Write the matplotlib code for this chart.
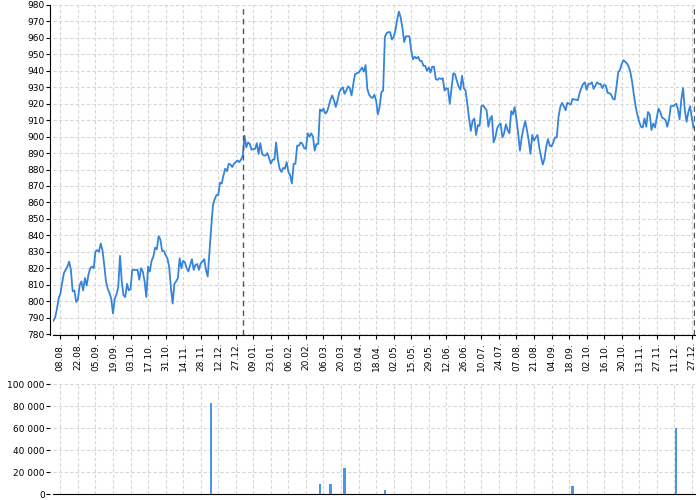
import matplotlib
matplotlib.use("Agg")
import matplotlib.pyplot as plt
import numpy as np
from matplotlib.ticker import FuncFormatter

# daily close, one value per trading day
close = [
    788, 790, 795, 801.5, 804.5, 811, 817, 819, 821, 824,
    819, 806, 806.5, 799.5, 801, 809.5, 812, 806.5, 814, 809.5,
    816, 820, 821, 820, 830, 831, 830, 835, 831, 822,
    812, 807.5, 805, 801.5, 792.5, 801.5, 804, 808.5, 827.5, 812,
    803.5, 802.5, 810.5, 806.5, 807.5, 819, 819, 819, 819, 813,
    820, 818, 812, 802.5, 821, 818, 824.5, 827, 832.5, 831.5,
    839.5, 837.5, 830.5, 830.5, 828, 826, 821, 808.5, 798.5, 810.5,
    812, 814, 826, 820, 824.5, 823.5, 820, 818, 822, 825.5,
    819, 822, 822.5, 819, 823, 824, 825.5, 819, 815, 830,
    845, 858.5, 862, 864.5, 864.5, 872, 871.5, 876.5, 880.5, 879,
    883.5, 883, 881.5, 883.5, 884.5, 885.5, 884.5, 886, 888.5, 900.5,
    893.5, 896.5, 895.5, 892, 892.5, 892.5, 896, 889.5, 896, 889.5,
    888.5, 888.5, 890, 887, 883.5, 886, 886, 896.5, 886, 880.5,
    878.5, 881, 880.5, 884.5, 878.5, 876.5, 871.5, 883.5, 883.5, 894.5,
    894.5, 896.5, 895.5, 893, 892.5, 902, 900, 902, 900, 891.5,
    895.5, 895.5, 916.5, 915.5, 917, 914, 915, 918.5, 922.5, 925,
    922, 918, 922, 927, 929, 930, 926, 928, 930.5, 929.5,
    925, 932, 938, 938.5, 939, 940.5, 942, 939.5, 943.5, 929,
    925.5, 924, 923.5, 925.5, 922, 913.5, 918, 927, 928, 960.5,
    963, 963.5, 963.5, 959, 960.5, 964.5, 971, 976, 972.5, 966,
    957.5, 961, 961, 961, 952.5, 947, 948.5, 947.5, 948.5, 946,
    946, 943, 943, 940, 942, 939, 942.5, 942.5, 935, 934.5,
    935.5, 935, 935.5, 928, 929.5, 929, 920, 929, 938.5, 938,
    934, 930.5, 928.5, 937, 929.5, 928, 920, 911, 903.5, 909.5,
    911, 901, 907, 906.5, 918.5, 919, 917.5, 916, 906, 911,
    912.5, 896.5, 899.5, 905, 907, 908, 899.5, 902, 907.5, 904,
    902, 915.5, 913.5, 918, 910.5, 902, 891.5, 899.5, 905, 909.5,
    904, 897.5, 889.5, 901, 897.5, 899.5, 901, 893.5, 888, 883,
    886.5, 894, 898.5, 894.5, 894, 896.5, 899.5, 899.5, 912, 918,
    920.5, 918.5, 916, 920.5, 920, 919.5, 923, 922.5, 922.5, 922,
    926.5, 929.5, 932, 933, 928.5, 932, 932, 933, 929, 931,
    933, 932, 932, 929.5, 931.5, 931, 926.5, 926.5, 925.5, 923,
    922.5, 930, 939, 940.5, 944, 946.5, 945.5, 944.5, 942.5, 939,
    933, 925, 918, 913, 909, 906, 905.5, 911, 906, 915,
    913.5, 904, 908, 905.5, 911.5, 917, 915, 911.5, 911, 910,
    906, 910.5, 918.5, 918.5, 919, 920, 917, 910.5, 922.5, 929.5,
    916, 909, 915, 918.5, 911, 905.5,
]

# volume: trading day index and traded volume (other days ~0)
vol_days = [90, 152, 158, 166, 189, 296, 355]
volume = [82500, 9100, 9100, 23400, 3600, 7600, 59700]

# year boundaries (trading day index)
year_ends = [108, 365]

tick_labels = [
    "08.08.", "22.08.", "05.09.", "19.09.", "03.10.", "17.10.", "31.10.",
    "14.11.", "28.11.", "12.12.", "27.12.", "09.01.", "23.01.", "06.02.",
    "20.02.", "06.03.", "20.03.", "03.04.", "18.04.", "02.05.", "15.05.",
    "29.05.", "12.06.", "26.06.", "10.07.", "24.07.", "07.08.", "21.08.",
    "04.09.", "18.09.", "02.10.", "16.10.", "30.10.", "13.11.", "27.11.",
    "11.12.", "27.12.",
]
first_tick = 4
tick_step = 10

days = np.arange(len(close))
tick_pos = [first_tick + tick_step * i for i in range(len(tick_labels))]

line_color = "#3584dc"
grid_kw = dict(color="#d6d6d6", linestyle=(0, (3, 2)), linewidth=0.8)

fig = plt.figure(figsize=(7, 5), dpi=100)
ax = fig.add_axes([53 / 700, 1 - 335 / 500, 642 / 700, 330 / 500])
axv = fig.add_axes([53 / 700, 1 - 494 / 500, 642 / 700, 110 / 500])

# price chart
ax.plot(days, close, color=line_color, linewidth=1.3, zorder=3)
for d in year_ends:
    ax.axvline(d, color="#555555", linestyle=(0, (4, 3)), linewidth=1, zorder=4)

ax.set_xlim(-0.2, 365.8)
ax.set_ylim(779.4, 980)
ax.set_yticks(np.arange(780, 981, 10))
ax.set_xticks(tick_pos)
ax.set_xticklabels(tick_labels, rotation=90, fontsize=6.5)
ax.tick_params(axis="y", labelsize=6.5, length=3, pad=1)
ax.tick_params(axis="x", length=3, pad=2)
ax.grid(True, **grid_kw)
ax.set_axisbelow(True)
for s in ["top", "right"]:
    ax.spines[s].set_visible(False)
ax.spines["left"].set_position(("outward", 2))

# volume chart
axv.bar(vol_days, volume, width=1.4, color="#4a95e6", zorder=3)
axv.set_xlim(-0.2, 365.8)
axv.set_ylim(0, 100000)
axv.set_yticks(np.arange(0, 100001, 20000))
axv.yaxis.set_major_formatter(FuncFormatter(lambda v, p: f"{int(v):,}".replace(",", " ")))
axv.set_xticks(tick_pos)
axv.set_xticklabels([])
axv.tick_params(axis="x", length=0)
axv.tick_params(axis="y", labelsize=6.5, length=3, pad=1)
axv.grid(True, **grid_kw)
axv.set_axisbelow(True)
for s in ["top", "right", "left"]:
    axv.spines[s].set_visible(False)
axv.spines["left"].set_position(("outward", 2))
axv.yaxis.set_ticks_position("left")

fig.savefig("out.png", dpi=100)
